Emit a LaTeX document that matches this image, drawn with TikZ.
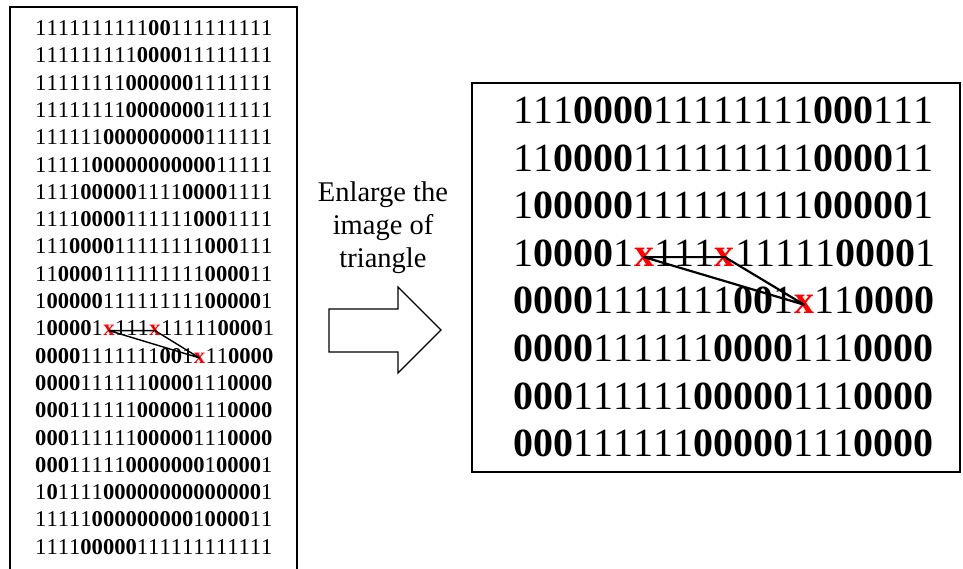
\documentclass[tikz,border=0pt]{standalone}
\usepackage{fontspec}
\setmainfont{Liberation Serif}
\newfontfamily\bitfam{Liberation Serif}[Kerning=Off]
\usetikzlibrary{calc}

\newcommand\bitfontS{\bitfam\fontsize{22.6}{27}\selectfont}
\newcommand\bitfontL{\bitfam\fontsize{40}{48}\selectfont}
\newcommand\bitrow[1]{\expandafter\dobits#1\relax}
\def\dobits#1{\ifx\relax#1\else\dobit{#1}\expandafter\dobits\fi}
\def\dobit#1{\if0#1\textbf{0}\else#1\fi}

\tikzstyle{frame}=[line width=1.5pt]
\tikzstyle{smallrow}=[anchor=base west,inner sep=0pt,font=\bitfontS]
\tikzstyle{bigrow}=[anchor=base west,inner sep=0pt,font=\bitfontL]
\tikzstyle{smallmark}=[anchor=base west,inner sep=0pt,text=red,font=\bitfontS\bfseries]
\tikzstyle{bigmark}=[anchor=base west,inner sep=0pt,text=red,font=\bitfontL\bfseries]
\tikzstyle{smalltri}=[line width=1.4pt,line join=round]
\tikzstyle{bigtri}=[line width=2.2pt,line join=round]
\tikzstyle{caption}=[align=center,inner sep=0pt,font=\fontsize{28.5}{33}\selectfont]
\tikzstyle{blockarrow}=[line width=1.2pt,line join=miter]

\begin{document}
\begin{tikzpicture}[x=1pt,y=-1pt]
\useasboundingbox (0,0) rectangle (963,568);

% whole image
\draw[frame] (10,7) rectangle (297,620);
\foreach \bits [count=\i] in {111111111100111111111,111111111000011111111,111111110000001111111,111111110000000111111,111111000000000111111,111110000000000011111,111100000111100001111,111100001111110001111,111000011111111000111,110000111111111000011,100000111111111000001}
  \node[smallrow] (s\i) at (35,{35.5+27.3*(\i-1)}) {\bitrow{\bits}};
\foreach \bits [count=\i from 14] in {000011111100001110000,000111111000001110000,000111111000001110000,000111110000000100001,101111000000000000001,111110000000001000011,111100000111111111111}
  \node[smallrow] (s\i) at (35,{35.5+27.3*(\i-1)}) {\bitrow{\bits}};

\node[smallrow] (s12) at (35,335.8) {\bitrow{100001}};
\node[smallmark] (sxa) at (s12.base east) {x};
\node[smallrow] (s12b) at (sxa.base east) {\bitrow{111}};
\node[smallmark] (sxb) at (s12b.base east) {x};
\node[smallrow] (s12c) at (sxb.base east) {\bitrow{1111100001}};
\node[smallrow] (s13) at (35,363.1) {\bitrow{00001111111001}};
\node[smallmark] (sxc) at (s13.base east) {x};
\node[smallrow] (s13b) at (sxc.base east) {\bitrow{110000}};
\draw[smalltri] (sxa.center) -- (sxb.center) -- (sxc.center) -- cycle;

% arrow and text
\node[caption] (enlarge) at (383,228) {Enlarge the\\image of\\triangle};
\draw[blockarrow] (329,309) -- (398,309) -- (398,287) -- (441,330) -- (398,373) -- (398,352) -- (329,352) -- cycle;

% enlarged part
\draw[frame] (472,83) rectangle (960,472);
\foreach \bits [count=\i] in {111000011111111000111,110000111111111000011,100000111111111000001}
  \node[bigrow] (b\i) at (513.5,{123.5+47.6*(\i-1)}) {\bitrow{\bits}};
\foreach \bits [count=\i from 6] in {000011111100001110000,000111111000001110000,000111111000001110000}
  \node[bigrow] (b\i) at (513.5,{123.5+47.6*(\i-1)}) {\bitrow{\bits}};

\node[bigrow] (b4) at (513.5,266.3) {\bitrow{100001}};
\node[bigmark] (bxa) at (b4.base east) {x};
\node[bigrow] (b4b) at (bxa.base east) {\bitrow{111}};
\node[bigmark] (bxb) at (b4b.base east) {x};
\node[bigrow] (b4c) at (bxb.base east) {\bitrow{1111100001}};
\node[bigrow] (b5) at (513.5,313.9) {\bitrow{00001111111001}};
\node[bigmark] (bxc) at (b5.base east) {x};
\node[bigrow] (b5b) at (bxc.base east) {\bitrow{110000}};
\draw[bigtri] (bxa.center) -- (bxb.center) -- (bxc.center) -- cycle;

\end{tikzpicture}
\end{document}
